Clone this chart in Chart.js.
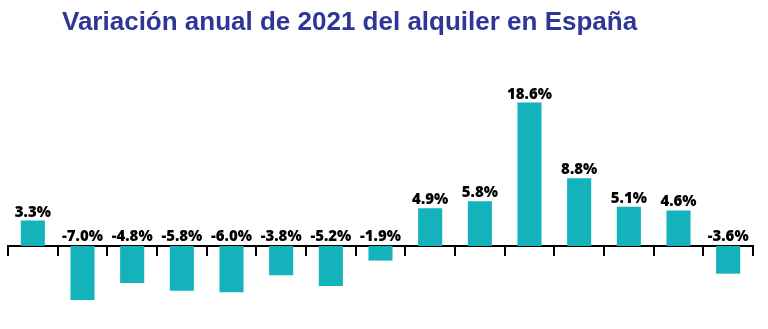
<!DOCTYPE html>
<html><head><meta charset="utf-8">
<script src="https://cdn.jsdelivr.net/npm/chart.js@4"></script>
<style>html,body{margin:0;padding:0;background:#fff}#wrap{width:768px;height:329px}</style>
</head><body><div id="wrap"><canvas id="c" width="768" height="329"></canvas></div>
<script>
const chartTitle = 'Variación anual de 2021 del alquiler en España';
const categories = ['C1','C2','C3','C4','C5','C6','C7','C8','C9','C10','C11','C12','C13','C14','C15'];
const variation = [3.3, -7.0, -4.8, -5.8, -6.0, -3.8, -5.2, -1.9, 4.9, 5.8, 18.6, 8.8, 5.1, 4.6, -3.6];

const titlePlugin = {
  id: 'titleDraw',
  afterDraw(chart) {
    const ctx = chart.ctx;
    ctx.save();
    ctx.fillStyle = '#2E3797';
    ctx.font = 'bold 26px "Liberation Sans", Arial, sans-serif';
    ctx.textAlign = 'left';
    ctx.textBaseline = 'alphabetic';
    ctx.fillText(chartTitle, 62, 30);
    ctx.restore();
  }
};

const labelPlugin = {
  id: 'valueLabels',
  afterDatasetsDraw(chart) {
    const ctx = chart.ctx;
    const meta = chart.getDatasetMeta(0);
    const zeroY = chart.scales.y.getPixelForValue(0);
    ctx.save();
    ctx.fillStyle = '#000';
    ctx.font = '800 15px "Open Sans", sans-serif';
    ctx.textAlign = 'center';
    ctx.textBaseline = 'alphabetic';
    meta.data.forEach((el, i) => {
      const v = chart.data.datasets[0].data[i];
      const y = v >= 0 ? el.y - 4 : zeroY - 5;
      ctx.fillText(v.toFixed(1) + '%', el.x, y);
    });
    ctx.restore();
  }
};

new Chart(document.getElementById('c'), {
  type: 'bar',
  data: {
    labels: categories,
    datasets: [{
      data: variation,
      backgroundColor: '#14B2BA',
      borderWidth: 0,
      barPercentage: 0.485,
      categoryPercentage: 1
    }]
  },
  options: {
    responsive: false,
    animation: false,
    devicePixelRatio: 1,
    layout: { padding: { top: 61, bottom: 6, left: 8, right: 15 } },
    plugins: { legend: { display: false }, title: { display: false }, tooltip: { enabled: false } },
    scales: {
      x: {
        position: { y: 0 },
        grid: { offset: true, drawOnChartArea: false, drawTicks: true, tickLength: 9, color: '#000', lineWidth: 2 },
        border: { display: true, color: '#000', width: 2 },
        ticks: { display: false }
      },
      y: { display: false, min: -10, max: 24 }
    }
  },
  plugins: [titlePlugin, labelPlugin]
});
</script>
</body></html>
